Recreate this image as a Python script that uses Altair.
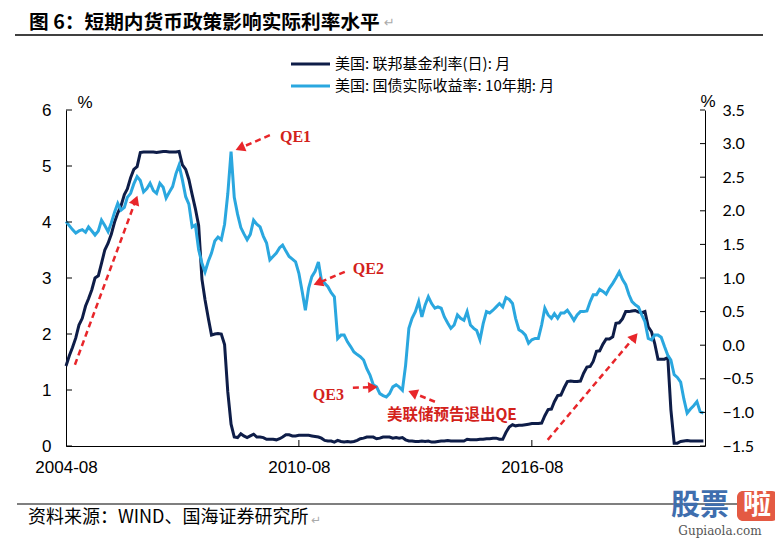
import altair as alt
import pandas as pd

# ---------------- data ----------------
start_month = "2004-08-01"

# US Fed funds rate (monthly), left axis, %
fed_funds = [
    1.43, 1.61, 1.76, 1.93, 2.16,
    2.28, 2.50, 2.63, 2.79, 3.00, 3.04, 3.26, 3.50, 3.62, 3.78, 4.00, 4.16,
    4.29, 4.49, 4.59, 4.79, 4.94, 4.99, 5.24, 5.25, 5.25, 5.25, 5.25, 5.24,
    5.25, 5.26, 5.26, 5.25, 5.25, 5.25, 5.26, 5.02, 4.94, 4.76, 4.49, 4.24,
    3.94, 2.98, 2.61, 2.28, 1.98, 2.00, 2.01, 2.00, 1.81, 0.97, 0.39, 0.16,
    0.15, 0.22, 0.18, 0.15, 0.18, 0.21, 0.16, 0.16, 0.15, 0.12, 0.12, 0.12,
    0.11, 0.13, 0.16, 0.20, 0.20, 0.18, 0.18, 0.19, 0.19, 0.19, 0.19, 0.18,
    0.17, 0.16, 0.14, 0.10, 0.09, 0.09, 0.07, 0.10, 0.08, 0.07, 0.08, 0.07,
    0.08, 0.10, 0.13, 0.14, 0.16, 0.16, 0.16, 0.13, 0.14, 0.16, 0.16, 0.16,
    0.14, 0.15, 0.14, 0.15, 0.11, 0.09, 0.09, 0.08, 0.08, 0.09, 0.08, 0.09,
    0.07, 0.07, 0.08, 0.09, 0.09, 0.10, 0.09, 0.09, 0.09, 0.09, 0.09, 0.12,
    0.11, 0.11, 0.11, 0.12, 0.12, 0.13, 0.13, 0.14, 0.14, 0.12, 0.12, 0.24,
    0.34, 0.38, 0.36, 0.37, 0.37, 0.38, 0.39, 0.40, 0.40, 0.40, 0.41, 0.54,
    0.65, 0.66, 0.79, 0.90, 0.91, 1.04, 1.15, 1.16, 1.15, 1.15, 1.16, 1.30,
    1.41, 1.42, 1.51, 1.69, 1.70, 1.82, 1.91, 1.91, 1.95, 2.19, 2.20, 2.27,
    2.40, 2.40, 2.41, 2.42, 2.39, 2.38, 2.40, 2.13, 2.04, 1.83, 1.55, 1.55,
    1.55, 1.58, 0.65, 0.05, 0.05, 0.08, 0.09, 0.10, 0.09, 0.09, 0.09, 0.09,
    0.09,
]

# US 10Y TIPS real yield (monthly), right axis, %
tips_10y = [
    1.84, 1.78, 1.72, 1.67, 1.70,
    1.72, 1.68, 1.76, 1.70, 1.64, 1.70, 1.86, 1.78, 1.69, 1.82, 1.98, 2.11,
    2.01, 2.05, 2.20, 2.26, 2.40, 2.51, 2.45, 2.28, 2.33, 2.41, 2.30, 2.26,
    2.41, 2.35, 2.19, 2.28, 2.36, 2.55, 2.68, 2.46, 2.21, 2.10, 1.76, 1.79,
    1.42, 1.22, 1.09, 1.25, 1.37, 1.55, 1.61, 1.57, 1.80, 2.25, 2.88, 2.20,
    1.95, 1.75, 1.66, 1.57, 1.65, 1.86, 1.80, 1.76, 1.62, 1.52, 1.27, 1.32,
    1.37, 1.45, 1.49, 1.40, 1.32, 1.28, 1.24, 1.07, 0.80, 0.52, 0.85, 1.02,
    1.10, 1.24, 0.97, 0.92, 0.87, 0.78, 0.72, 0.10, 0.15, 0.15, 0.05, -0.02,
    -0.10, -0.14, -0.17, -0.22, -0.35, -0.45, -0.59, -0.62, -0.72, -0.75, -0.77, -0.72,
    -0.62, -0.59, -0.62, -0.67, -0.30, 0.25, 0.40, 0.50, 0.65, 0.42, 0.60, 0.72,
    0.62, 0.55, 0.57, 0.55, 0.42, 0.33, 0.25, 0.30, 0.45, 0.40, 0.37, 0.50,
    0.30, 0.25, 0.22, 0.08, 0.32, 0.50, 0.48, 0.52, 0.57, 0.62, 0.57, 0.71,
    0.68, 0.62, 0.40, 0.23, 0.20, 0.15, 0.03, 0.08, 0.10, 0.10, 0.30, 0.55,
    0.45, 0.40, 0.47, 0.40, 0.48, 0.48, 0.52, 0.45, 0.37, 0.45, 0.50, 0.50,
    0.51, 0.65, 0.75, 0.75, 0.83, 0.80, 0.76, 0.85, 0.92, 1.00, 1.09, 0.98,
    0.90, 0.75, 0.65, 0.60, 0.57, 0.45, 0.35, 0.10, 0.08, 0.15, 0.15, 0.12,
    -0.02, -0.15, -0.22, -0.44, -0.48, -0.55, -0.80, -1.01, -0.95, -0.90, -0.84, -0.99,
    -1.01,
]

x_tick_labels = ["2004-08", "2010-08", "2016-08"]
left_ticks = [0, 1, 2, 3, 4, 5, 6]
right_ticks = [-1.5, -1.0, -0.5, 0.0, 0.5, 1.0, 1.5, 2.0, 2.5, 3.0, 3.5]

series_names = ["美国: 联邦基金利率(日): 月", "美国: 国债实际收益率: 10年期: 月"]
title_text = "图 6：短期内货币政策影响实际利率水平"
source_text = "资料来源：WIND、国海证券研究所"

# annotation arrows (dates and left-axis values)
arrow_start_date = ["2004-10-24", "2009-11-01", "2011-10-07", "2011-12-22", "2014-02-01", "2016-12-28"]
arrow_start_val = [1.45, 5.55, 3.11, 1.04, 0.79, 0.11]
arrow_end_date = ["2006-05-19", "2009-01-24", "2011-01-28", "2012-06-27", "2013-07-07", "2019-03-25"]
arrow_end_val = [4.39, 5.32, 2.91, 1.05, 0.95, 1.95]
arrow_angle = [21, 247, 248, 87, 292, 40]

note_labels = ["QE1", "QE2", "QE3"]
note_dates = ["2010-02-04", "2011-12-22", "2010-12-10"]
note_vals = [5.52, 3.16, 0.91]
exit_label = "美联储预告退出QE"
exit_date = "2012-11-06"
exit_val = 0.55

# ---------------- layout ----------------
PL, PT = 66, 110          # plot-area origin on the page
W, H = 639, 336
NAVY = "#0E1D48"
SKY = "#2AA7DF"
RED_A = "#E8262A"
RED_T = "#D3221B"

months = pd.date_range(start_month, periods=len(fed_funds), freq="MS")
df = pd.DataFrame({"date": months, "ff": fed_funds, "tips": tips_10y})


def dt(s):
    y, m = s.split("-")
    return alt.DateTime(year=int(y), month=int(m), date=1)


x_scale = alt.Scale(domain=[alt.DateTime(year=2004, month=8, date=1),
                            alt.DateTime(year=2021, month=1, date=16)])
x_axis = alt.Axis(values=[dt(s) for s in x_tick_labels], format="%Y-%m", title=None,
                  ticks=False, grid=False, labelFlush=False, labelPadding=13,
                  labelFont="Liberation Sans", labelFontSize=17, labelColor="black",
                  domainColor="black", domainWidth=1)


def X(field):
    return alt.X(field, type="temporal", scale=x_scale, axis=x_axis)


left_scale = alt.Scale(domain=[0, 6], nice=False, zero=False)
right_scale = alt.Scale(domain=[-1.5, 3.5], nice=False, zero=False)

# group 1: fed funds (left axis)
g1 = alt.Chart(df).mark_line(color=NAVY, strokeWidth=3).encode(
    x=X("date"),
    y=alt.Y("ff:Q", scale=left_scale,
            axis=alt.Axis(values=left_ticks, format="d", title=None, ticks=False, grid=False,
                          orient="left", labelPadding=15, labelFont="Liberation Sans",
                          labelFontSize=17, labelColor="black", domainColor="black")),
)

# group 2: TIPS (right axis)
g2 = alt.Chart(df).mark_line(color=SKY, strokeWidth=3).encode(
    x=X("date"),
    y=alt.Y("tips:Q", scale=right_scale,
            axis=alt.Axis(values=right_ticks, format=".1f", title=None, ticks=False, grid=False,
                          orient="right", labelPadding=17, labelFont="Lato",
                          labelFontSize=16, labelColor="black", domainColor="black",
                          labelOverlap=False)),
)


def ptext(s, px, py, **kw):
    return alt.Chart(pd.DataFrame({"t": [s]})).mark_text(**kw).encode(
        text="t:N", x=alt.value(px - PL), y=alt.value(py - PT))


def prule(x1, x2, y1, y2, **kw):
    return alt.Chart(pd.DataFrame({"a": [0]})).mark_rule(**kw).encode(
        x=alt.value(x1 - PL), x2=alt.value(x2 - PL), y=alt.value(y1 - PT), y2=alt.value(y2 - PT))


# group 3: overlays on left scale
left_tick_df = pd.DataFrame({"v": left_ticks})
left_tick_marks = alt.Chart(left_tick_df).mark_rule(color="black", strokeWidth=1).encode(
    y=alt.Y("v:Q", scale=left_scale, axis=None), x=alt.value(0), x2=alt.value(6))

xt_df = pd.DataFrame({"d": pd.to_datetime(x_tick_labels[1:])})
x_tick_marks = alt.Chart(xt_df).mark_rule(color="black", strokeWidth=1).encode(
    x=X("d"), y=alt.value(H - 6), y2=alt.value(H))

arr_df = pd.DataFrame({
    "sd": pd.to_datetime(arrow_start_date), "sv": arrow_start_val,
    "ed": pd.to_datetime(arrow_end_date), "ev": arrow_end_val, "ang": arrow_angle,
})
arrow_lines = alt.Chart(arr_df).mark_rule(color=RED_A, strokeWidth=2.5, strokeDash=[6, 4]).encode(
    x=X("sd"), x2="ed:T", y=alt.Y("sv:Q", scale=left_scale, axis=None), y2="ev:Q")
arrow_heads = alt.Chart(arr_df).mark_point(shape="triangle-up", filled=True, size=120,
                                            color=RED_A, opacity=1).encode(
    x=X("ed"), y=alt.Y("ev:Q", scale=left_scale, axis=None),
    angle=alt.Angle("ang:Q", scale=None))

notes_df = pd.DataFrame({"d": pd.to_datetime(note_dates), "v": note_vals, "t": note_labels})
notes = alt.Chart(notes_df).mark_text(align="left", baseline="middle", font="Liberation Serif",
                                      fontWeight="bold", fontSize=16, color=RED_T).encode(
    x=X("d"), y=alt.Y("v:Q", scale=left_scale, axis=None), text="t:N")

exit_df = pd.DataFrame({"d": pd.to_datetime([exit_date]), "v": [exit_val], "t": [exit_label]})
exit_note = alt.Chart(exit_df).mark_text(align="left", baseline="middle", font="Noto Sans CJK SC",
                                         fontWeight="bold", fontSize=15.5, color=RED_T).encode(
    x=X("d"), y=alt.Y("v:Q", scale=left_scale, axis=None), text="t:N")

decor = [
    ptext(title_text, 29, 22.5, align="left", baseline="middle", font="Noto Sans CJK SC",
          fontWeight="bold", fontSize=19.7, color="black"),
    ptext("↵", 384, 23, align="left", baseline="middle", font="DejaVu Sans", fontSize=13, color="#AAAAAA"),
    prule(15, 763, 35, 35, color="black", strokeWidth=1.5),
    prule(291, 330, 64, 64, color=NAVY, strokeWidth=3),
    prule(291, 330, 86, 86, color=SKY, strokeWidth=3),
    ptext(series_names[0], 335, 64, align="left", baseline="middle", font="Noto Sans CJK SC",
          fontSize=15, color="black"),
    ptext(series_names[1], 335, 86, align="left", baseline="middle", font="Noto Sans CJK SC",
          fontSize=15, color="black"),
    ptext("%", 85, 103, align="center", baseline="middle", font="Liberation Sans", fontSize=17, color="black"),
    ptext("%", 708, 102, align="center", baseline="middle", font="Liberation Sans", fontSize=17, color="black"),
    prule(17, 765, 504, 504, color="black", strokeWidth=1.2),
    ptext(source_text, 28, 518, align="left", baseline="middle", font="Noto Sans CJK SC",
          fontSize=18, color="black"),
    ptext("↵", 311, 520, align="left", baseline="middle", font="DejaVu Sans", fontSize=12, color="#AAAAAA"),
    # watermark
    ptext("股票", 700, 506, align="center", baseline="middle", font="Noto Sans CJK SC",
          fontWeight="bold", fontSize=29, color="#3F6EAE"),
    alt.Chart(pd.DataFrame({"a": [0]})).mark_rect(color="#E45A43", cornerRadius=6).encode(
        x=alt.value(737 - PL), x2=alt.value(778 - PL), y=alt.value(491 - PT), y2=alt.value(521 - PT)),
    ptext("啦", 757, 506, align="center", baseline="middle", font="Noto Sans CJK SC",
          fontWeight="bold", fontSize=28, color="white"),
    ptext("Gupiaola.com", 720, 531, align="center", baseline="middle", font="DejaVu Serif",
          fontSize=12, color="#555555"),
]

g3 = alt.layer(left_tick_marks, x_tick_marks, arrow_lines, arrow_heads, notes, exit_note, *decor)

# group 4: right-axis inward ticks
right_tick_df = pd.DataFrame({"v": right_ticks})
g4 = alt.Chart(right_tick_df).mark_rule(color="black", strokeWidth=1).encode(
    y=alt.Y("v:Q", scale=right_scale, axis=None), x=alt.value(W - 5), x2=alt.value(W))

chart = alt.layer(g1, g2, g3, g4).resolve_scale(y="independent").properties(
    width=W, height=H,
    padding={"left": PL - 8, "top": PT - 8, "right": 783 - 8 - PL - W, "bottom": 92},
    autosize=alt.AutoSizeParams(type="none"),
).configure_view(stroke=None).configure_axis(grid=False)

chart.save("out.html", embed_options={"renderer": "svg", "actions": False})
